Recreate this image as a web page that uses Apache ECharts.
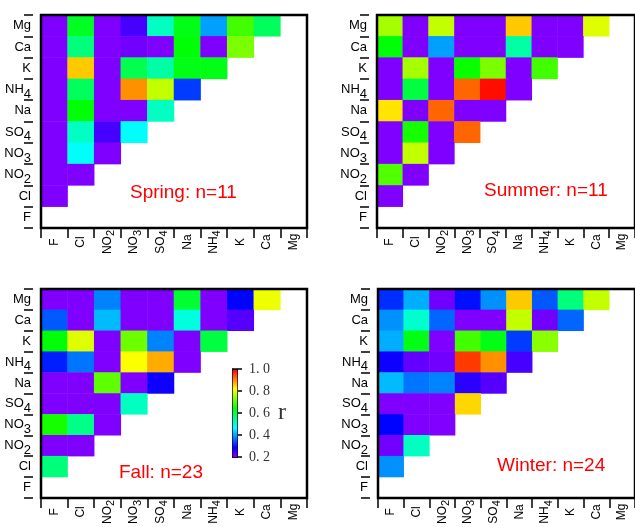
<!DOCTYPE html>
<html>
<head>
<meta charset="utf-8">
<script src="https://cdn.jsdelivr.net/npm/echarts@6/dist/echarts.min.js"></script>
<style>
html,body{margin:0;padding:0;background:#fff;}
#chart{width:635px;height:527px;}
</style>
</head>
<body>
<div id="chart"></div>
<script>
// Ion order: x axis left->right, y axis bottom->top
var ions = ['F','Cl','NO2','NO3','SO4','Na','NH4','K','Ca','Mg'];
var seasonTitles = ['Spring: n=11','Summer: n=11','Fall: n=23','Winter: n=24'];
var colorTicks = [0.2, 0.4, 0.6, 0.8, 1.0];

// Lower-triangle rows, from top row (Mg) down to Cl; values for columns F, Cl, NO2, ...
var spring = [
  [0.2, 0.62, 0.2, 0.24, 0.51, 0.63, 0.40, 0.69, 0.58],
  [0.2, 0.56, 0.2, 0.21, 0.2, 0.64, 0.2, 0.73],
  [0.2, 0.86, 0.2, 0.59, 0.53, 0.63, 0.63],
  [0.2, 0.58, 0.2, 0.90, 0.78, 0.33],
  [0.2, 0.64, 0.2, 0.2, 0.51],
  [0.2, 0.51, 0.24, 0.47],
  [0.2, 0.47, 0.2],
  [0.2, 0.2],
  [0.2]
];
var summer = [
  [0.76, 0.2, 0.78, 0.2, 0.2, 0.86, 0.2, 0.2, 0.80],
  [0.64, 0.2, 0.40, 0.2, 0.2, 0.53, 0.2, 0.2],
  [0.2, 0.76, 0.2, 0.65, 0.73, 0.2, 0.69],
  [0.2, 0.60, 0.2, 0.93, 0.99, 0.2],
  [0.84, 0.2, 0.93, 0.2, 0.2],
  [0.2, 0.66, 0.2, 0.93],
  [0.2, 0.78, 0.2],
  [0.70, 0.2],
  [0.2]
];
var fall = [
  [0.2, 0.2, 0.38, 0.2, 0.2, 0.61, 0.2, 0.29, 0.81],
  [0.35, 0.2, 0.42, 0.2, 0.2, 0.49, 0.2, 0.23],
  [0.64, 0.80, 0.2, 0.72, 0.38, 0.2, 0.60],
  [0.31, 0.37, 0.2, 0.82, 0.88, 0.2],
  [0.2, 0.2, 0.71, 0.2, 0.28],
  [0.2, 0.2, 0.2, 0.51],
  [0.66, 0.55, 0.2],
  [0.2, 0.2],
  [0.56]
];
var winter = [
  [0.32, 0.41, 0.21, 0.30, 0.39, 0.86, 0.35, 0.56, 0.78],
  [0.39, 0.50, 0.36, 0.2, 0.2, 0.78, 0.21, 0.36],
  [0.41, 0.63, 0.2, 0.69, 0.63, 0.33, 0.74],
  [0.28, 0.22, 0.21, 0.96, 0.90, 0.24],
  [0.42, 0.37, 0.38, 0.26, 0.23],
  [0.2, 0.2, 0.2, 0.85],
  [0.29, 0.2, 0.2],
  [0.21, 0.51],
  [0.39]
];
var seasons = [spring, summer, fall, winter];

// ---- styling / layout ----
var gridPos = [
  {left: 41, top: 15},
  {left: 377, top: 15},
  {left: 41, top: 289},
  {left: 378, top: 289}
];
var titlePos = [
  {left: 130, top: 183},
  {left: 484, top: 181},
  {left: 119, top: 463},
  {left: 497, top: 456}
];

function hueHex(h){
  function f(n){ var k = (n + h/60) % 6; return Math.round(255*(1 - Math.max(Math.min(k, 4-k, 1), 0))); }
  function hx(v){ var s = v.toString(16); return s.length < 2 ? '0'+s : s; }
  return '#' + hx(f(5)) + hx(f(3)) + hx(f(1));
}
var rainbow = [];
for (var i = 0; i <= 18; i++) rainbow.push(hueHex(270 - 15*i));

function subFmt(v){
  var m = /^([A-Za-z]+)(\d)$/.exec(v);
  if (m) return '{n|' + m[1] + '}{s|' + m[2] + '}';
  return '{n|' + v + '}';
}
function richY(){
  return {
    n: {fontSize: 13, fontFamily: 'Liberation Sans Narrow, Liberation Sans, Arial', color: '#000'},
    s: {fontSize: 13, fontFamily: 'Liberation Sans Narrow, Liberation Sans, Arial', color: '#000', padding: [9,0,0,0]}
  };
}
function richX(){
  return {
    n: {fontSize: 12, fontFamily: 'Liberation Sans, Arial', color: '#000'},
    s: {fontSize: 11, fontFamily: 'Liberation Sans, Arial', color: '#000', padding: [7,0,0,0]}
  };
}

var grids = [], xAxes = [], yAxes = [], series = [], titles = [];
var tickStyle = {color: '#000', width: 1.5};
for (var g = 0; g < 4; g++) {
  grids.push({left: gridPos[g].left, top: gridPos[g].top, width: 266, height: 213,
    show: true, borderColor: '#000', borderWidth: 2.5, backgroundColor: 'transparent', z: 5});
  xAxes.push({gridIndex: g, type: 'category', data: ions, boundaryGap: true,
    axisLine: {show: false}, axisTick: {show: true, length: 10, lineStyle: tickStyle},
    axisLabel: {rotate: 90, margin: 14, align: 'center', formatter: subFmt, rich: richX()}, splitLine: {show: false}});
  yAxes.push({gridIndex: g, type: 'category', data: ions, position: 'left', boundaryGap: true,
    axisLine: {show: false}, axisTick: {show: false},
    axisLabel: {margin: 10, formatter: subFmt, rich: richY()}, splitLine: {show: false}});
  yAxes.push({gridIndex: g, type: 'category', data: ions, position: 'left', offset: 8, boundaryGap: true,
    axisLine: {show: false}, axisTick: {show: true, length: 9, lineStyle: tickStyle},
    axisLabel: {show: false}, splitLine: {show: false}});
  var rows = seasons[g], data = [];
  for (var r = 0; r < rows.length; r++) {
    var yi = 9 - r;
    for (var c = 0; c < rows[r].length; c++) data.push([c, yi, rows[r][c]]);
  }
  series.push({type: 'heatmap', xAxisIndex: g, yAxisIndex: 2*g, data: data,
    itemStyle: {borderWidth: 0}, emphasis: {disabled: true}, silent: true});
  titles.push({text: seasonTitles[g], left: titlePos[g].left, top: titlePos[g].top, padding: 0,
    textStyle: {color: '#ff0000', fontSize: 19, fontWeight: 'normal', fontFamily: 'Liberation Sans, Arial'}});
}
// colorbar axis
grids.push({left: 232, top: 369, width: 5, height: 88, show: false});
xAxes.push({gridIndex: 4, type: 'value', show: false});
yAxes.push({gridIndex: 4, type: 'value', min: colorTicks[0], max: colorTicks[colorTicks.length-1], interval: 0.2,
  position: 'right', axisLine: {show: false},
  axisTick: {show: true, length: 10, lineStyle: tickStyle},
  axisLabel: {margin: 12, color: '#333', fontSize: 14, fontFamily: 'Liberation Serif, DejaVu Serif, serif',
    formatter: function(v){ return v.toFixed(1).replace('.', '. '); }},
  splitLine: {show: false},
  name: 'r', nameLocation: 'middle', nameGap: 41, nameRotate: 0,
  nameTextStyle: {fontSize: 24, color: '#333', fontFamily: 'Liberation Serif, DejaVu Serif, serif'}});

var option = {
  animation: false,
  backgroundColor: '#fff',
  title: titles,
  grid: grids,
  xAxis: xAxes,
  yAxis: yAxes,
  visualMap: {
    type: 'continuous', min: 0.2, max: 1.0, seriesIndex: [0,1,2,3],
    calculable: false, show: true, left: 232, top: 369, itemWidth: 5, itemHeight: 88,
    padding: 0, borderColor: '#000', borderWidth: 1, text: null,
    inRange: {color: rainbow}, outOfRange: {color: rainbow[0]}
  },
  series: series
};
var chart = echarts.init(document.getElementById('chart'), null, {renderer: 'canvas'});
chart.setOption(option);
</script>
</body>
</html>
